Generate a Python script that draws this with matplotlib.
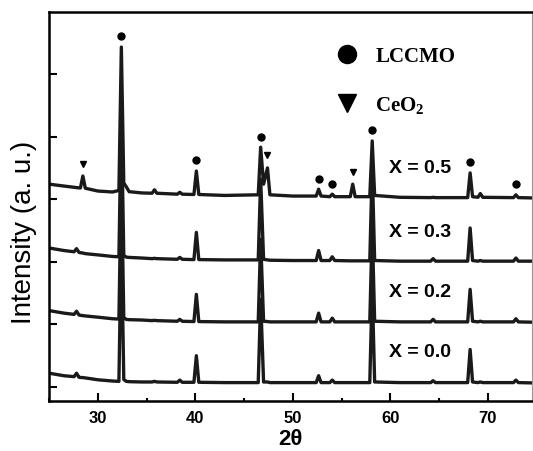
import matplotlib
matplotlib.use('Agg')
import matplotlib.pyplot as plt
from matplotlib.lines import Line2D
from matplotlib.ticker import MultipleLocator

plt.rcParams['font.family'] = 'Liberation Sans'
plt.rcParams['mathtext.fontset'] = 'custom'
plt.rcParams['mathtext.bf'] = 'Liberation Serif:bold'

# 2theta sampling shared by all patterns
two_theta = [25.0, 26.5, 27.55, 27.8, 28.05, 28.2, 28.45, 28.7, 30.0, 31.5,
             32.15, 32.4, 32.65, 32.9, 33.2, 34.5, 35.55, 35.8, 36.05, 38.15,
             38.4, 38.65, 39.85, 40.1, 40.35, 43.0, 46.45, 46.7, 47.0, 47.4,
             47.65, 50.0, 52.4, 52.65, 52.9, 53.8, 54.05, 54.3, 55.9, 56.15,
             56.4, 57.9, 58.15, 58.4, 61.0, 64.15, 64.4, 64.65, 67.95, 68.2,
             68.45, 69.0, 69.25, 69.5, 72.65, 72.9, 73.15, 74.6]

# intensities (a.u.), before stacking
x00 = [0.22, 0.18, 0.165, 0.22, 0.155, 0.152, 0.15, 0.145, 0.115, 0.095,
       0.09, 2.45, 0.12, 0.09, 0.085, 0.08, 0.08, 0.09, 0.08, 0.075,
       0.11, 0.075, 0.075, 0.50, 0.075, 0.07, 0.07, 1.40, 0.08, 0.08,
       0.07, 0.07, 0.07, 0.18, 0.07, 0.07, 0.11, 0.07, 0.07, 0.07,
       0.07, 0.07, 1.60, 0.08, 0.07, 0.07, 0.10, 0.07, 0.07, 0.60,
       0.08, 0.07, 0.08, 0.07, 0.07, 0.11, 0.07, 0.065]
x02 = [0.26, 0.22, 0.20, 0.25, 0.19, 0.185, 0.18, 0.175, 0.155, 0.13,
       0.125, 2.45, 0.15, 0.12, 0.115, 0.11, 0.10, 0.105, 0.10, 0.09,
       0.12, 0.09, 0.085, 0.52, 0.085, 0.08, 0.08, 1.40, 0.09, 0.085,
       0.08, 0.08, 0.08, 0.22, 0.08, 0.08, 0.14, 0.08, 0.08, 0.08,
       0.08, 0.08, 1.60, 0.09, 0.08, 0.08, 0.12, 0.08, 0.08, 0.60,
       0.09, 0.08, 0.09, 0.08, 0.08, 0.13, 0.08, 0.075]
x03 = [0.30, 0.26, 0.24, 0.29, 0.23, 0.225, 0.22, 0.21, 0.19, 0.165,
       0.16, 2.45, 0.18, 0.155, 0.15, 0.14, 0.13, 0.135, 0.13, 0.12,
       0.15, 0.12, 0.115, 0.55, 0.115, 0.11, 0.11, 1.40, 0.12, 0.11,
       0.105, 0.10, 0.10, 0.26, 0.10, 0.10, 0.16, 0.10, 0.095, 0.095,
       0.095, 0.095, 1.60, 0.10, 0.09, 0.09, 0.13, 0.09, 0.09, 0.62,
       0.10, 0.09, 0.10, 0.09, 0.09, 0.14, 0.09, 0.09]
x05 = [0.30, 0.27, 0.25, 0.245, 0.24, 0.24, 0.43, 0.235, 0.19, 0.175,
       0.20, 2.49, 0.32, 0.26, 0.18, 0.16, 0.155, 0.21, 0.155, 0.14,
       0.17, 0.14, 0.135, 0.51, 0.135, 0.12, 0.13, 0.89, 0.30, 0.56,
       0.13, 0.11, 0.11, 0.22, 0.11, 0.10, 0.14, 0.10, 0.10, 0.30,
       0.10, 0.10, 0.99, 0.12, 0.09, 0.085, 0.09, 0.085, 0.085, 0.48,
       0.10, 0.09, 0.15, 0.09, 0.085, 0.13, 0.085, 0.08]

samples = ['X = 0.0', 'X = 0.2', 'X = 0.3', 'X = 0.5']
patterns = [x00, x02, x03, x05]
offsets = [0.0, 0.96, 1.92, 2.94]

lccmo_peaks = [32.4, 40.1, 46.7, 52.65, 54.05, 58.15, 68.2, 72.9]
ceo2_peaks = [28.45, 47.4, 56.15]

fig = plt.figure(figsize=(5.33, 4.52), dpi=100)
ax = fig.add_axes([0.0924, 0.1106, 0.9057, 0.8606])

for label, y, off in zip(samples, patterns, offsets):
    ax.plot(two_theta, [v + off for v in y], color='#1a1a1a', lw=2.4,
            solid_joinstyle='round')
    ax.text(59.9, off + 0.57, label, fontsize=14, fontweight='bold',
            va='center', ha='left')

# phase markers above the X = 0.5 pattern
top = [v + offsets[-1] for v in x05]
ax.plot(lccmo_peaks, [top[two_theta.index(p)] + 0.17 for p in lccmo_peaks],
        'o', color='k', ms=5, ls='none')
ax.plot(ceo2_peaks, [top[two_theta.index(p)] + 0.2 for p in ceo2_peaks],
        'v', color='k', ms=5, ls='none')

handles = [Line2D([], [], marker='o', ls='none', color='k', ms=13),
           Line2D([], [], marker='v', ls='none', color='k', ms=13)]
ax.legend(handles, ['LCCMO', r'CeO$_\mathbf{2}$'], loc='center left',
          bbox_to_anchor=(0.574, 0.822), frameon=False, borderpad=0,
          handlelength=1.0, handletextpad=0.85, labelspacing=1.35,
          prop={'family': 'Liberation Serif', 'weight': 'bold', 'size': 15})

ax.set_xlim(25, 74.55)
ax.set_ylim(-0.224, 5.99)
ax.xaxis.set_major_locator(MultipleLocator(10))
ax.xaxis.set_minor_locator(MultipleLocator(5))
ax.set_yticks([0, 1, 2, 3, 4, 5])
ax.set_yticklabels([])
ax.tick_params(which='major', direction='in', length=6, width=1.5,
               top=False, right=False, labelsize=12, pad=6.5)
ax.tick_params(which='minor', direction='in', length=2.5, width=1.5,
               top=False, right=False)
for lbl in ax.get_xticklabels():
    lbl.set_fontweight('bold')

for side in ['left', 'bottom', 'top']:
    ax.spines[side].set_linewidth(1.8)
ax.spines['right'].set_linewidth(0.8)
ax.spines['right'].set_color('#999999')

ax.set_xlabel('2θ', fontsize=16, fontweight='bold')
ax.xaxis.set_label_coords(0.5, -0.07)
ax.set_ylabel('Intensity (a. u.)', fontsize=20)
ax.yaxis.set_label_coords(-0.025, 0.437)

fig.savefig('out.png', dpi=100)
